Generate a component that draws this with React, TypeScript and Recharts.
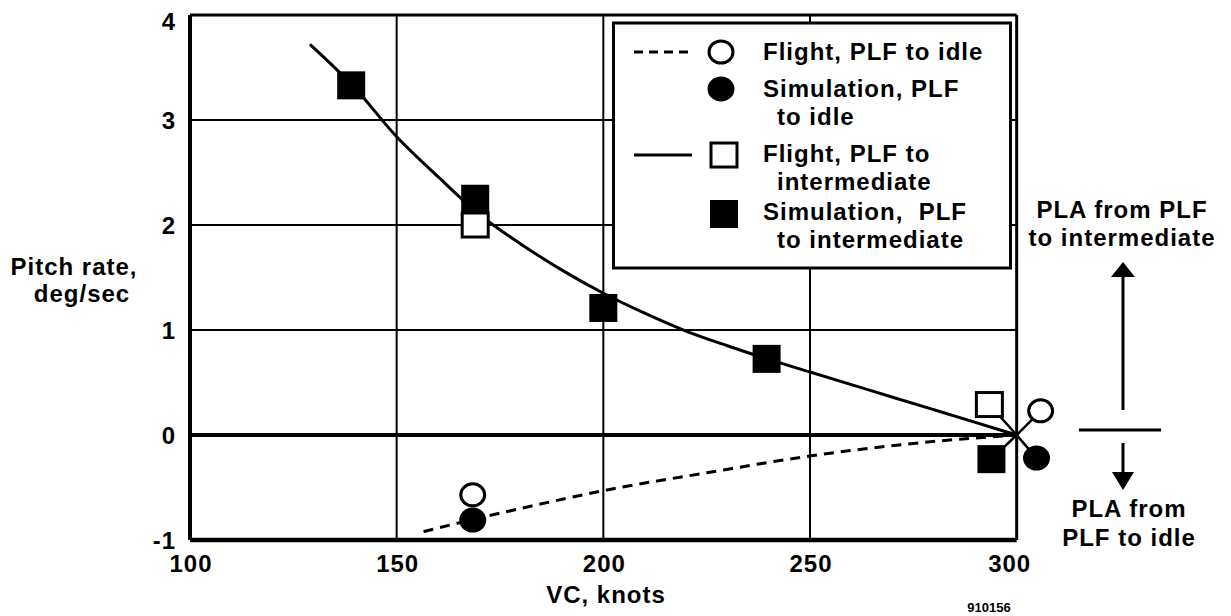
import React from "react";
import {
  ComposedChart,
  Line,
  Scatter,
  XAxis,
  YAxis,
  ReferenceLine,
} from "recharts";

// curves
const interCurveX = [129, 140, 150, 160, 170, 180, 190, 200, 210, 220, 230, 240, 250, 260, 270, 280, 290, 300];
const interCurveY = [3.72, 3.3, 2.84, 2.46, 2.1, 1.82, 1.57, 1.35, 1.16, 0.99, 0.85, 0.72, 0.6, 0.48, 0.36, 0.24, 0.12, 0];
const idleCurveX = [156.5, 170, 180, 200, 225, 250, 275, 300];
const idleCurveY = [-0.92, -0.79, -0.7, -0.53, -0.36, -0.2, -0.08, 0];

// markers
const flightIdleX = [168.4, 305.8];
const flightIdleY = [-0.57, 0.23];
const simIdleX = [168.4, 304.8];
const simIdleY = [-0.81, -0.22];
const flightInterX = [169, 293.4];
const flightInterY = [2.0, 0.29];
const simInterX = [139, 169, 200, 239.5, 293.9];
const simInterY = [3.33, 2.25, 1.21, 0.725, -0.23];

// leader lines meet at 300 knots, 0 deg/sec
const leaderOrigin = { x: 300, y: 0 };
const leaderEnds = [
  { x: 305.8, y: 0.23 },
  { x: 304.8, y: -0.22 },
  { x: 293.4, y: 0.29 },
  { x: 293.9, y: -0.23 },
];

const xTicks = [100, 150, 200, 250, 300];
const yTicks = [-1, 0, 1, 2, 3, 4];
const xMin = xTicks[0];
const xMax = xTicks[xTicks.length - 1];

const zip = (xs: number[], ys: number[]) => xs.map((x, i) => ({ x, y: ys[i] }));

const FONT = '"Liberation Sans", Arial, sans-serif';
const txt = { fontFamily: FONT, fontWeight: 700, fontSize: 24, letterSpacing: 1, fill: "#000" } as const;

const FilledSquare = (p: any) => <rect x={p.cx - 14} y={p.cy - 14} width={28} height={28} fill="#000" />;
const OpenSquare = (p: any) => (
  <rect x={p.cx - 13} y={p.cy - 12} width={26} height={24} fill="#fff" stroke="#000" strokeWidth={3} />
);
const OpenCircle = (p: any) => (
  <ellipse cx={p.cx} cy={p.cy} rx={12} ry={11} fill="#fff" stroke="#000" strokeWidth={3} />
);
const FilledCircle = (p: any) => <ellipse cx={p.cx} cy={p.cy} rx={13.5} ry={12.5} fill="#000" />;

const XTick = (p: any) => {
  const v = p.payload.value;
  return (
    <text x={p.x + (v === 300 ? -7 : 1)} y={p.y} dy="0.71em" textAnchor="middle" {...txt}>
      {v}
    </text>
  );
};

const YTick = (p: any) => {
  const v = p.payload.value;
  return (
    <text x={p.x} y={p.y + (v === 4 ? 6 : 0)} dy="0.355em" textAnchor="end" {...txt}>
      {v}
    </text>
  );
};

function Annotations() {
  return (
    <svg width={1231} height={616} style={{ position: "absolute", left: 0, top: 0, pointerEvents: "none" }}>
      {/* legend */}
      <rect x={613.5} y={23} width={397} height={245} fill="#fff" stroke="#000" strokeWidth={3} />
      <line x1={634} y1={52} x2={692} y2={52} stroke="#000" strokeWidth={3} strokeDasharray="9 6" />
      <OpenCircle cx={721} cy={52} />
      <text x={763} y={60} {...txt}>Flight, PLF to idle</text>
      <FilledCircle cx={721} cy={89} />
      <text x={763} y={97} {...txt}>Simulation, PLF</text>
      <text x={777} y={125} {...txt}>to idle</text>
      <line x1={634} y1={155} x2={692} y2={155} stroke="#000" strokeWidth={3} />
      <OpenSquare cx={724} cy={155} />
      <text x={763} y={162} {...txt}>Flight, PLF to</text>
      <text x={777} y={190} {...txt}>intermediate</text>
      <FilledSquare cx={724} cy={214} />
      <text x={763} y={220} {...txt} style={{ whiteSpace: "pre" }}>{"Simulation,  PLF"}</text>
      <text x={777} y={248} {...txt}>to intermediate</text>

      {/* y axis title */}
      <text x={74} y={275} textAnchor="middle" {...txt}>Pitch rate,</text>
      <text x={82} y={302} textAnchor="middle" {...txt}>deg/sec</text>

      {/* x axis title */}
      <text x={606} y={603} textAnchor="middle" {...txt}>VC, knots</text>
      <text x={989} y={612} textAnchor="middle" fontFamily={FONT} fontWeight={700} fontSize={13}>910156</text>

      {/* right annotations */}
      <text x={1122} y={218} textAnchor="middle" {...txt}>PLA from PLF</text>
      <text x={1122} y={246} textAnchor="middle" {...txt}>to intermediate</text>
      <line x1={1123} y1={274} x2={1123} y2={410} stroke="#000" strokeWidth={3} />
      <polygon points="1123,262 1111,277 1135,277" fill="#000" />
      <line x1={1079} y1={430} x2={1161} y2={430} stroke="#000" strokeWidth={3} />
      <line x1={1123} y1={443} x2={1123} y2={474} stroke="#000" strokeWidth={3} />
      <polygon points="1123,490 1112,472 1134,472" fill="#000" />
      <text x={1129} y={517} textAnchor="middle" {...txt}>PLA from</text>
      <text x={1129} y={546} textAnchor="middle" {...txt}>PLF to idle</text>
    </svg>
  );
}

export default function App() {
  const interCurve = zip(interCurveX, interCurveY);
  const idleCurve = zip(idleCurveX, idleCurveY);
  const hSeg = (y: number) => [
    { x: xMin, y },
    { x: xMax, y },
  ];

  return (
    <div style={{ position: "absolute", left: 0, top: 0, width: 1231, height: 616, background: "#fff" }}>
      {/* x domain runs a little past 300 so the markers beyond the frame stay visible */}
      <ComposedChart width={1231} height={616} margin={{ top: 15, right: 173, bottom: 0, left: 0 }}>
        <XAxis
          dataKey="x"
          type="number"
          domain={[100, 310]}
          ticks={xTicks}
          height={76}
          axisLine={false}
          tickLine={false}
          tickSize={0}
          tickMargin={15}
          tick={<XTick />}
        />
        <YAxis
          dataKey="y"
          type="number"
          domain={[-1, 4]}
          ticks={yTicks}
          width={190}
          axisLine={{ stroke: "#000", strokeWidth: 4 }}
          tickLine={false}
          tickSize={0}
          tickMargin={14}
          tick={<YTick />}
        />
        {xTicks.slice(1, -1).map((v) => (
          <ReferenceLine key={"v" + v} x={v} stroke="#000" strokeWidth={2} />
        ))}
        {yTicks.slice(2, -1).map((v) => (
          <ReferenceLine key={"h" + v} segment={hSeg(v)} stroke="#000" strokeWidth={2} />
        ))}
        <ReferenceLine segment={hSeg(0)} stroke="#000" strokeWidth={4} />
        <ReferenceLine segment={hSeg(-1)} stroke="#000" strokeWidth={4.5} />
        <ReferenceLine segment={hSeg(4)} stroke="#000" strokeWidth={3} />
        <ReferenceLine x={xMax} stroke="#000" strokeWidth={3} />

        <Line data={interCurve} dataKey="y" type="monotone" stroke="#000" strokeWidth={3} dot={false} isAnimationActive={false} />
        <Line
          data={idleCurve}
          dataKey="y"
          type="monotone"
          stroke="#000"
          strokeWidth={3}
          strokeDasharray="10 7"
          dot={false}
          isAnimationActive={false}
        />
        {leaderEnds.map((e, i) => (
          <Line
            key={i}
            data={[leaderOrigin, e]}
            dataKey="y"
            type="linear"
            stroke="#000"
            strokeWidth={2.5}
            dot={false}
            isAnimationActive={false}
          />
        ))}

        <Scatter data={zip(flightIdleX, flightIdleY)} dataKey="y" shape={OpenCircle} isAnimationActive={false} />
        <Scatter data={zip(simIdleX, simIdleY)} dataKey="y" shape={FilledCircle} isAnimationActive={false} />
        <Scatter data={zip(simInterX, simInterY)} dataKey="y" shape={FilledSquare} isAnimationActive={false} />
        <Scatter data={zip(flightInterX, flightInterY)} dataKey="y" shape={OpenSquare} isAnimationActive={false} />
      </ComposedChart>
      <Annotations />
    </div>
  );
}
